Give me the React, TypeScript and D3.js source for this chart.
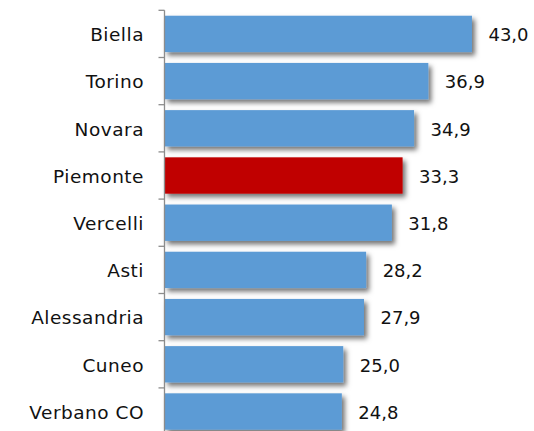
import React from "react";
import * as d3 from "d3";

const categories = ["Biella", "Torino", "Novara", "Piemonte", "Vercelli", "Asti", "Alessandria", "Cuneo", "Verbano CO"];
const values = [43.0, 36.9, 34.9, 33.3, 31.8, 28.2, 27.9, 25.0, 24.8];
const highlight = "Piemonte";

const W = 534;
const H = 431;

export default function App() {
  const y = d3.scaleBand<string>().domain(categories).range([10.3, 10.3 + 9 * 47.2]).paddingInner(0.23).paddingOuter(0.115);
  const x = d3.scaleLinear().domain([0, 45]).range([164.5, 164.5 + 45 * 7.15]);
  const fmt = (v: number) => v.toFixed(1).replace(".", ",");
  const step = y.step();
  const r0 = y.range()[0];
  const ticks = d3.range(categories.length + 1).map((i) => r0 + i * step);
  const font = "'DejaVu Sans', sans-serif";
  return (
    <div style={{ position: "fixed", left: 0, top: 0 }}>
      <svg width={W} height={H} style={{ display: "block", background: "#fff" }}>
        <defs>
          <filter id="sh" x="-10%" y="-30%" width="130%" height="180%">
            <feDropShadow dx="3" dy="3.5" stdDeviation="2.4" floodColor="#000" floodOpacity="0.55" />
          </filter>
        </defs>
        {categories.map((c, i) => (
          <rect
            key={c}
            x={x(0)}
            y={y(c)!}
            width={x(values[i]) - x(0)}
            height={y.bandwidth()}
            fill={c === highlight ? "#C00000" : "#5B9BD5"}
            filter="url(#sh)"
          />
        ))}
        <line x1={x(0)} x2={x(0)} y1={ticks[0]} y2={H + 10} stroke="#8c8c8c" strokeWidth={1.3} />
        {ticks.map((t, i) => (
          <line key={i} x1={x(0) - 6} x2={x(0)} y1={t} y2={t} stroke="#8c8c8c" strokeWidth={1.3} />
        ))}
        {categories.map((c) => (
          <text key={c} x={144} y={y(c)! + y.bandwidth() / 2 + 7.3} textAnchor="end" fontFamily={font} fontSize={18.5} letterSpacing={0.5} fill="#111">
            {c}
          </text>
        ))}
        {categories.map((c, i) => (
          <text key={c} x={x(values[i]) + 16.5} y={y(c)! + y.bandwidth() / 2 + 7.2} fontFamily={font} fontSize={18} fill="#111">
            {fmt(values[i])}
          </text>
        ))}
      </svg>
    </div>
  );
}
